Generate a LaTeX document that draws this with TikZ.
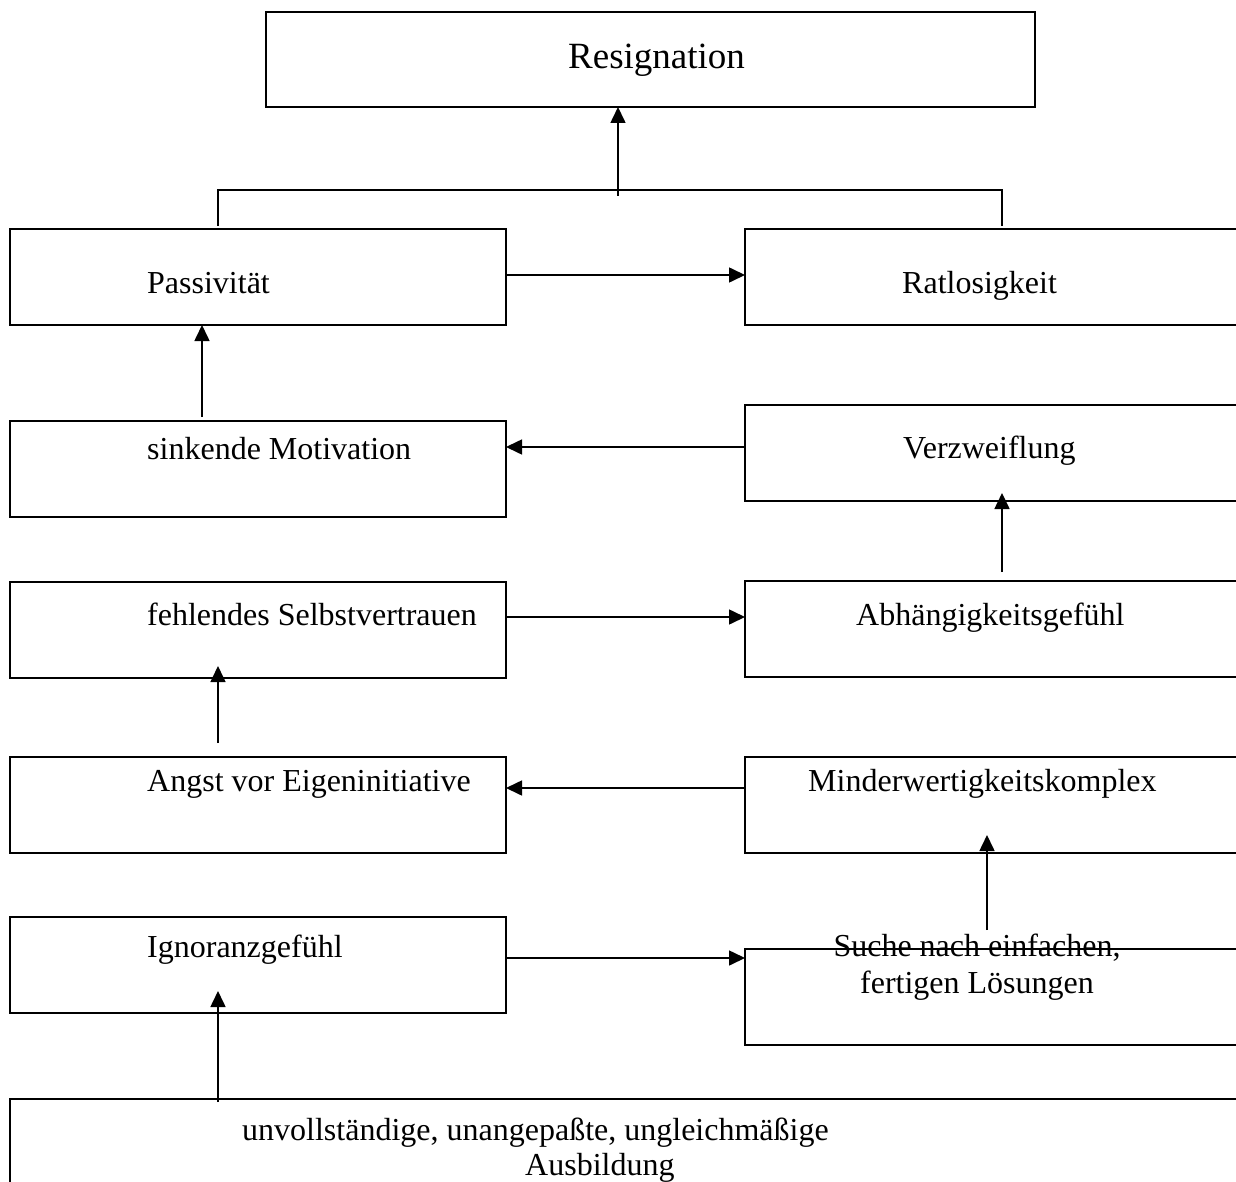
\documentclass[tikz,border=0pt]{standalone}
\usepackage{fontspec}
\setmainfont{Liberation Serif}
\usetikzlibrary{arrows.meta}

\begin{document}
\begin{tikzpicture}[x=1pt, y=-1pt,
  box/.style={draw, line width=1.6pt, inner sep=0pt, outer sep=0pt, anchor=north west, minimum height=96pt},
  lbl/.style={inner sep=0pt, anchor=base west, font=\fontsize{32}{37}\selectfont},
  arr/.style={line width=1.6pt, -{Triangle[length=16pt,width=15pt]}},
  con/.style={line width=1.6pt}]
\useasboundingbox (0,0) rectangle (1236,1182);
\clip (0,0) rectangle (1236,1182);

\node[box, minimum width=769pt, minimum height=95pt] (Resig) at (266,12) {}; % top
\node[box, minimum width=496pt] (Passiv) at (10,229) {};
\node[box, minimum width=514pt] (Ratlos) at (745,229) {};
\node[box, minimum width=496pt] (Motiv) at (10,421) {};
\node[box, minimum width=514pt] (Verzw) at (745,405) {};
\node[box, minimum width=496pt] (Selbst) at (10,582) {};
\node[box, minimum width=514pt] (Abhaeng) at (745,581) {};
\node[box, minimum width=496pt] (Angst) at (10,757) {};
\node[box, minimum width=514pt] (Minder) at (745,757) {};
\node[box, minimum width=496pt] (Ignor) at (10,917) {};
\node[box, minimum width=514pt] (Suche) at (745,949) {};
\node[box, minimum width=1290pt, minimum height=120pt] (Ausb) at (10,1099) {}; % bottom

\node[lbl, font=\fontsize{37}{42}\selectfont] (ResigLabel) at (568,69) {Resignation};
\node[lbl] (PassivLabel) at (147,294) {Passivität};
\node[lbl] (RatlosLabel) at (902,294) {Ratlosigkeit};
\node[lbl] (MotivLabel) at (147,459) {sinkende Motivation};
\node[lbl] (VerzwLabel) at (903,458) {Verzweiflung};
\node[lbl] (SelbstLabel) at (147,625) {fehlendes Selbstvertrauen};
\node[lbl] (AbhaengLabel) at (856,625) {Abhängigkeitsgefühl};
\node[lbl] (AngstLabel) at (147,791) {Angst vor Eigeninitiative};
\node[lbl] (MinderLabel) at (808,791) {Minderwertigkeitskomplex};
\node[lbl] (IgnorLabel) at (147,957) {Ignoranzgefühl};
\node[lbl, anchor=base, align=center] (SucheLabel) at (977,993) {Suche nach einfachen,\\fertigen Lösungen};
\node[lbl] (AusbLabelA) at (242,1140) {unvollständige, unangepaßte, ungleichmäßige};
\node[lbl] (AusbLabelB) at (525,1175) {Ausbildung};

\coordinate (Fork) at (618,196);
\draw[con] ([xshift=-40pt,yshift=3pt]Passiv.north) |- ([yshift=39pt]Ratlos.north) -- ([yshift=3pt]Ratlos.north); % the bracket
\draw[arr] (Fork) -- (Fork |- Resig.south);
\draw[arr] ([yshift=2pt]Passiv.east) -- ([yshift=2pt]Ratlos.west);
\draw[arr] ([xshift=-56pt,yshift=4pt]Motiv.north) -- ([xshift=-56pt]Passiv.south);
\draw[arr] ([yshift=6pt]Verzw.west) -- ([yshift=6pt]Verzw.west -| Motiv.east);
\draw[arr] ([yshift=9pt]Abhaeng.north) -- ([yshift=8pt]Verzw.south);
\draw[arr] ([yshift=13pt]Selbst.east) -- ([yshift=13pt]Selbst.east -| Abhaeng.west);
\draw[arr] ([xshift=-40pt,yshift=14pt]Angst.north) -- ([xshift=-40pt,yshift=12pt]Selbst.south);
\draw[arr] ([yshift=17pt]Minder.west) -- ([yshift=17pt]Minder.west -| Angst.east);
\draw[arr] ([xshift=-15pt,yshift=19pt]Suche.north) -- ([xshift=-15pt,yshift=18pt]Minder.south);
\draw[arr] ([yshift=7pt]Ignor.east) -- ([yshift=7pt]Ignor.east -| Suche.west);
\draw[arr] ([xshift=208pt,yshift=-3pt]Ausb.north west) -- ([xshift=-40pt,yshift=22pt]Ignor.south);
\end{tikzpicture}
\end{document}
